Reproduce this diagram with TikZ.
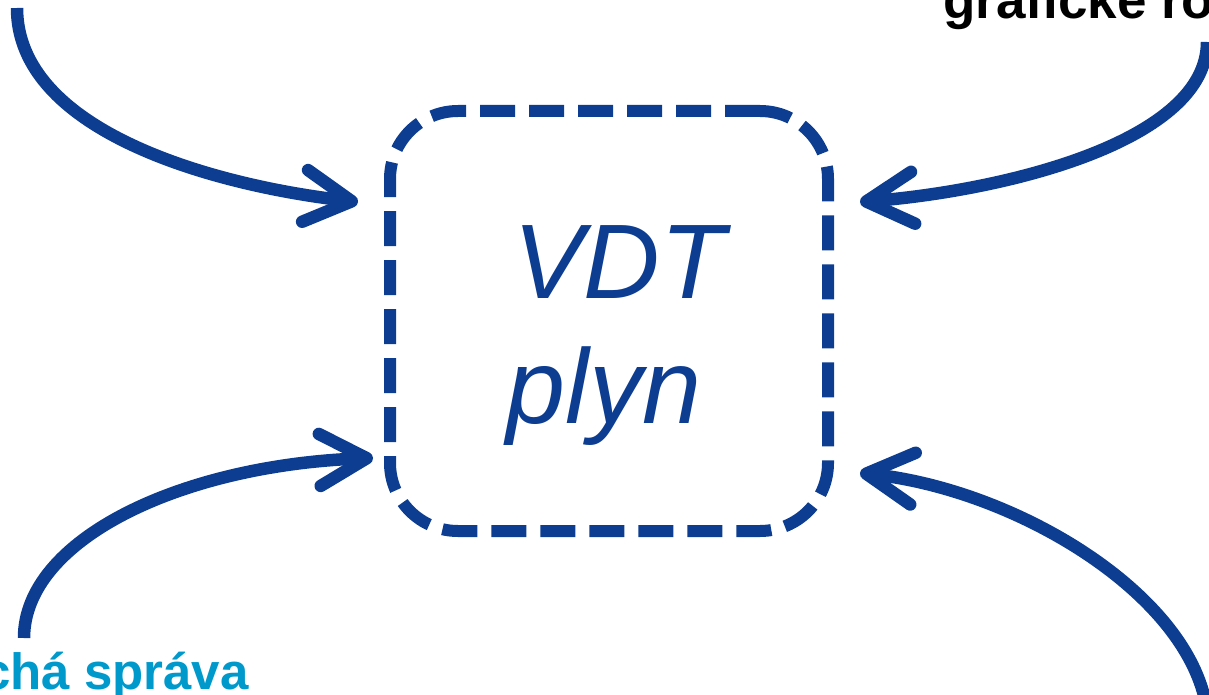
\documentclass[tikz,border=0pt]{standalone}
\usepackage{fontspec}
\setmainfont{Liberation Sans}
\usetikzlibrary{arrows.meta}
\definecolor{vdtblue}{RGB}{13,61,145}
\definecolor{vdtcyan}{RGB}{0,153,204}
\begin{document}
\begin{tikzpicture}[x=1pt,y=-1pt,
  flow/.style={draw=vdtblue,line width=12.5pt,
    -{Straight Barb[length=47pt,width=52pt,round]}},
  frame/.style={draw=vdtblue,line width=12pt,rounded corners=68pt,
    dash pattern=on 35pt off 14pt,minimum width=438pt,minimum height=420pt,
    inner sep=0pt},
  bigtext/.style={text=vdtblue,font=\fontsize{106}{125}\selectfont\itshape,
    inner sep=0pt,anchor=base},
  sidetext/.style={font=\fontsize{53}{60}\selectfont\bfseries,inner sep=0pt,
    anchor=base west},
  lowtext/.style={font=\fontsize{51}{60}\selectfont\bfseries,inner sep=0pt,
    anchor=base west}]
\useasboundingbox (0,0) rectangle (1209,695);
\clip (0,0) rectangle (1209,695);
\node[frame] (vdt) at (609,321) {};
\node[bigtext] (l1) at (619,298) {VDT};
\node[bigtext] (l2) at (604,423) {plyn};
\node[sidetext,text=black] (tr) at (943,19) {grafické ro};
\node[lowtext,text=vdtcyan] (bl) at (-18,689) {chá správa};
\coordinate (tls) at (17,8);
\coordinate (tle) at (358,202);
\coordinate (trs) at (1207,42);
\coordinate (tre) at (860,202);
\coordinate (bls) at (24,638);
\coordinate (ble) at (373,458);
\coordinate (brs) at (1208,720);
\coordinate (bre) at (860,473);
\draw[flow] (tls) .. controls (17,130) and (210,185) .. (tle);
\draw[flow] (trs) .. controls (1207,140) and (1010,190) .. (tre);
\draw[flow] (bls) .. controls (24,540) and (180,465) .. (ble);
\draw[flow] (brs) .. controls (1200,600) and (1020,490) .. (bre);
\end{tikzpicture}
\end{document}
